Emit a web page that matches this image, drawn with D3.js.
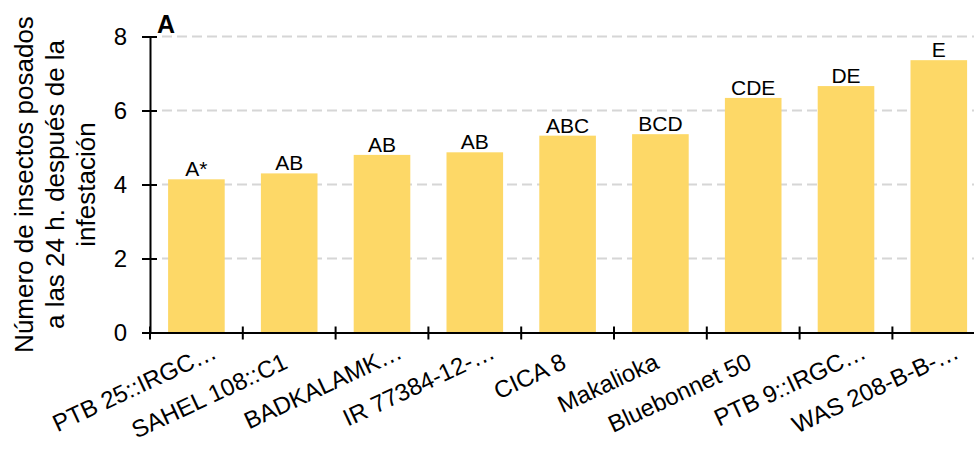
<!DOCTYPE html>
<html>
<head>
<meta charset="utf-8">
<script src="https://cdn.jsdelivr.net/npm/d3@7"></script>
<style>
  html, body { margin: 0; padding: 0; background: #fff; }
  svg { display: block; font-family: "Liberation Sans", Arial, sans-serif; }
</style>
</head>
<body>
<svg id="chart" width="974" height="451"></svg>
<script>
// Rice varieties and mean number of insects landed 24 h after infestation
const categories = ["PTB 25::IRGC…", "SAHEL 108::C1", "BADKALAMK…", "IR 77384-12-…", "CICA 8",
                    "Makalioka", "Bluebonnet 50", "PTB 9::IRGC…", "WAS 208-B-B-…"];
const values = [4.14, 4.30, 4.80, 4.87, 5.32, 5.36, 6.34, 6.66, 7.36];
const groups = ["A*", "AB", "AB", "AB", "ABC", "BCD", "CDE", "DE", "E"];
const yTicks = [0, 2, 4, 6, 8];
const titleLines = ["Número de insectos posados", "a las 24 h. después de la", "infestación"];
const panelLabel = "A";

const svg = d3.select("#chart");
const plotLeft = 150, plotBottom = 332.5, plotTop = 36.5, step = 92.8;

const x = d3.scaleBand().domain(categories)
  .range([plotLeft, plotLeft + categories.length * step]).padding(0);
const y = d3.scaleLinear().domain([0, 8]).range([plotBottom, plotTop]);

// dashed horizontal grid
svg.append("g").selectAll("line")
  .data(yTicks.filter(d => d > 0))
  .join("line")
  .attr("x1", plotLeft + 12).attr("x2", 974)
  .attr("y1", d => y(d)).attr("y2", d => y(d))
  .attr("stroke", "#d6d6d6").attr("stroke-width", 2)
  .attr("stroke-dasharray", "10,5");

// bars
const bw = x.bandwidth() * 0.61;
svg.append("g").selectAll("rect")
  .data(categories)
  .join("rect")
  .attr("x", d => x(d) + (x.bandwidth() - bw) / 2)
  .attr("width", bw)
  .attr("y", (d, i) => y(values[i]))
  .attr("height", (d, i) => y(0) - y(values[i]))
  .attr("fill", "#fdd867");

// significance letters above bars
svg.append("g").selectAll("text")
  .data(categories)
  .join("text")
  .attr("x", d => x(d) + x.bandwidth() / 2)
  .attr("y", (d, i) => y(values[i]) - 3)
  .attr("text-anchor", "middle")
  .attr("font-size", 21)
  .attr("fill", "#000")
  .text((d, i) => groups[i]);

// y axis
const yAxis = svg.append("g")
  .attr("transform", `translate(${plotLeft},0)`)
  .call(d3.axisLeft(y).tickValues(yTicks).tickSizeInner(8).tickSizeOuter(0).tickPadding(15));
yAxis.select(".domain").attr("stroke", "#000").attr("stroke-width", 2);
yAxis.selectAll(".tick line").attr("x1", 7).attr("stroke", "#000").attr("stroke-width", 2);
yAxis.selectAll(".tick text").attr("font-size", 24).attr("fill", "#000")
  .attr("font-family", "Liberation Sans, Arial, sans-serif");

// x axis: labels at band centres, ticks on band boundaries
const xAxis = svg.append("g")
  .attr("transform", `translate(0,${plotBottom})`)
  .call(d3.axisBottom(x).tickSizeInner(0).tickSizeOuter(0).tickPadding(0));
xAxis.select(".domain").attr("stroke", "#000").attr("stroke-width", 2);
xAxis.selectAll(".tick line").remove();
xAxis.selectAll(".tick text")
  .attr("x", 0).attr("y", 0).attr("dy", 0)
  .attr("transform", "translate(0,35) rotate(-25)")
  .attr("text-anchor", "end")
  .attr("font-size", 24).attr("fill", "#000")
  .attr("font-family", "Liberation Sans, Arial, sans-serif")
  .text(d => d.replace(/…$/, ""));
xAxis.selectAll(".tick").filter(d => d.endsWith("…"))
  .append("text")
  .attr("transform", "translate(0,35) rotate(-25)")
  .attr("text-anchor", "start")
  .attr("font-size", 24).attr("fill", "#000")
  .attr("font-family", "Liberation Sans, Arial, sans-serif")
  .text("…");

const bounds = d3.range(categories.length + 1).map(i => x.range()[0] + i * x.step());
svg.append("g").selectAll("line")
  .data(bounds)
  .join("line")
  .attr("x1", d => d).attr("x2", d => d)
  .attr("y1", plotBottom - 6).attr("y2", plotBottom + 7)
  .attr("stroke", "#000").attr("stroke-width", 2);

// y axis title
const title = svg.append("g")
  .attr("transform", `translate(0,${(plotTop + plotBottom) / 2}) rotate(-90)`);
title.selectAll("text")
  .data(titleLines)
  .join("text")
  .attr("x", 0)
  .attr("y", (d, i) => 33 + i * 31)
  .attr("text-anchor", "middle")
  .attr("font-size", 26)
  .attr("fill", "#000")
  .text(d => d);

// panel letter
svg.append("text")
  .attr("x", 157).attr("y", 33)
  .attr("font-size", 25).attr("font-weight", "bold")
  .attr("fill", "#000")
  .text(panelLabel);
</script>
</body>
</html>
